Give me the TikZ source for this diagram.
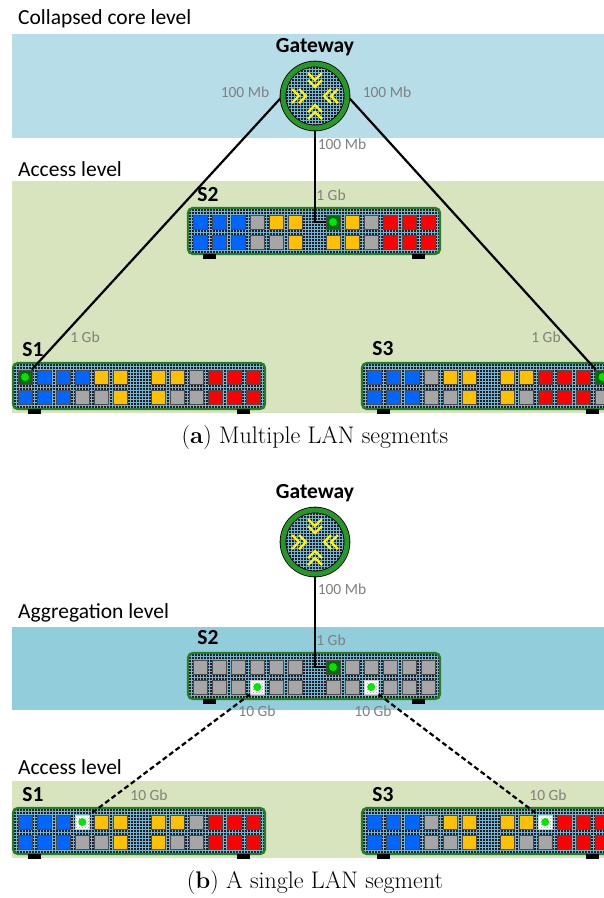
\documentclass[tikz,border=0pt]{standalone}
\usepackage{fontspec}
\newfontfamily\calibfont{Carlito}
\usetikzlibrary{patterns}

\definecolor{coreblue}{RGB}{183,222,232}
\definecolor{aggblue}{RGB}{146,205,220}
\definecolor{accgreen}{RGB}{215,228,189}
\definecolor{hatchbg}{RGB}{24,30,46}
\definecolor{hatchfg}{RGB}{120,180,202}
\definecolor{swgreen}{RGB}{40,125,40}
\definecolor{ringgreen}{RGB}{40,150,40}
\definecolor{portblue}{RGB}{0,102,255}
\definecolor{portgray}{RGB}{166,166,166}
\definecolor{portyellow}{RGB}{255,192,0}
\definecolor{portred}{RGB}{255,0,0}
\definecolor{uplinkgreen}{RGB}{0,110,0}
\definecolor{ledgreen}{RGB}{0,230,0}
\definecolor{ratetext}{RGB}{128,128,128}

\pgfdeclarelayer{links}
\pgfdeclarelayer{front}
\pgfsetlayers{main,links,front}

\tikzset{
  lvl/.style={anchor=west, inner sep=0pt, font=\calibfont\fontsize{21.5}{24}\selectfont},
  dev/.style={inner sep=0pt, font=\calibfont\bfseries\fontsize{21.5}{24}\selectfont},
  rate/.style={inner sep=0pt, text=ratetext, font=\calibfont\fontsize{15.5}{18}\selectfont},
  capt/.style={inner sep=0pt, font=\fontsize{24}{28}\selectfont},
  hatchline/.style={draw=hatchfg, line width=0.55pt},
  swframe/.style={draw=swgreen, line width=2.4pt},
  port/.style={minimum size=14pt, inner sep=0pt, draw=black!70, line width=0.7pt},
  pB/.style={fill=portblue},
  pG/.style={fill=portgray},
  pY/.style={fill=portyellow},
  pR/.style={fill=portred},
  pU/.style={fill=uplinkgreen,
    path picture={\fill[ledgreen] (path picture bounding box.center) circle (4pt);}},
  pD/.style={draw=gray!40, preaction={fill=white}, pattern=crosshatch dots, pattern color=gray!70,
    path picture={\fill[ledgreen] (path picture bounding box.center) circle (4pt);}},
  chevron/.style={draw=yellow, line width=2.4pt},
  gateway/.style={circle, minimum size=64pt, inner sep=0pt, fill=hatchbg,
    draw=black, line width=0.8pt, double=ringgreen, double distance=5pt,
    path picture={
      \draw[hatchline] (path picture bounding box.south west) grid[step=3pt] (path picture bounding box.north east);
      \begin{scope}[shift={(path picture bounding box.center)}]
        \draw[chevron] (-7,-23) -- (0,-16) -- (7,-23) (-7,-16) -- (0,-9) -- (7,-16);
        \draw[chevron] (-7,23) -- (0,16) -- (7,23) (-7,16) -- (0,9) -- (7,16);
        \draw[chevron] (-23,-7) -- (-16,0) -- (-23,7) (-16,-7) -- (-9,0) -- (-16,7);
        \draw[chevron] (23,-7) -- (16,0) -- (23,7) (16,-7) -- (9,0) -- (16,7);
      \end{scope}}},
  link/.style={draw=black, line width=2.2pt},
  fastlink/.style={draw=black, line width=2.2pt, dash pattern=on 5pt off 3pt}
}

% #1 name, #2 top left corner, #3 upper row, #4 lower row
\newcommand{\lanswitch}[4]{%
  \begin{scope}[shift={#2}]
    \fill[hatchbg, rounded corners=5pt] (0,0) rectangle (252,46);
    \begin{scope}
      \clip[rounded corners=4pt] (0,0) rectangle (252,46);
      \draw[hatchline] (0,0) grid[step=3pt] (252,46);
    \end{scope}
    \draw[swframe, rounded corners=5pt] (0,0) rectangle (252,46);
    \fill[black] (15,46) rectangle (28,51);
    \fill[black] (224,46) rectangle (237,51);
    \foreach \pc [count=\i] in {#3}
      \node[port, p\pc] (#1-t\i) at ({12+(\i-1)*19.1+18.4*(\i>6)},14) {};
    \foreach \pc [count=\i] in {#4}
      \node[port, p\pc] (#1-b\i) at ({12+(\i-1)*19.1+18.4*(\i>6)},34) {};
  \end{scope}}

\begin{document}
\begin{tikzpicture}[x=1pt, y=-1pt]
\useasboundingbox (0,0) rectangle (604,898);

\fill[coreblue] (12,34) rectangle (610,138);
\fill[accgreen] (12,181) rectangle (610,413);
\fill[aggblue] (12,627) rectangle (610,710);
\fill[accgreen] (12,781) rectangle (610,858);

\node[lvl] (core-a) at (18,19) {Collapsed core level};
\node[lvl] (access-a) at (18,169) {Access level};
\node[lvl] (aggr-b) at (18,613) {Aggregation level};
\node[lvl] (access-b) at (18,767) {Access level};

\node[dev] (gwa-name) at (315,47) {Gateway};
\node[dev] (gwb-name) at (315,493) {Gateway};
\node[dev] (s2a-name) at (208,195) {S2};
\node[dev] (s1a-name) at (33,350) {S1};
\node[dev] (s3a-name) at (383,349) {S3};
\node[dev] (s2b-name) at (208,638) {S2};
\node[dev] (s1b-name) at (33,795) {S1};
\node[dev] (s3b-name) at (383,795) {S3};

\lanswitch{s2a}{(188,208)}{B,B,B,G,Y,Y,U,Y,G,R,R,R}{B,B,B,G,G,Y,Y,Y,G,R,R,R}
\lanswitch{s1a}{(13,363)}{U,B,B,B,Y,Y,Y,Y,G,R,R,R}{B,B,B,G,G,Y,Y,G,G,R,R,R}
\lanswitch{s3a}{(362,363)}{B,B,B,G,Y,Y,Y,Y,R,R,R,U}{B,B,B,G,G,Y,Y,G,R,R,R,G}
\lanswitch{s2b}{(188,653)}{G,G,G,G,G,G,U,G,G,G,G,G}{G,G,G,D,G,G,G,G,D,G,G,G}
\lanswitch{s1b}{(13,808)}{B,B,B,D,Y,Y,Y,Y,G,R,R,R}{B,B,B,G,G,Y,Y,G,G,R,R,R}
\lanswitch{s3b}{(362,808)}{B,B,B,G,Y,Y,Y,Y,D,R,R,R}{B,B,B,G,G,Y,Y,G,G,R,R,R}

\node[rate] (r-gw-s1a) at (245,92) {100 Mb};
\node[rate] (r-gw-s3a) at (387,92) {100 Mb};
\node[rate] (r-gw-s2a) at (342,144) {100 Mb};
\node[rate] (r-s2a) at (331,195) {1 Gb};
\node[rate] (r-s1a) at (85,337) {1 Gb};
\node[rate] (r-s3a) at (546,337) {1 Gb};
\node[rate] (r-gw-s2b) at (342,589) {100 Mb};
\node[rate] (r-s2b) at (331,640) {1 Gb};
\node[rate] (r-s2b-l) at (257,711) {10 Gb};
\node[rate] (r-s2b-r) at (373,711) {10 Gb};
\node[rate] (r-s1b) at (149,795) {10 Gb};
\node[rate] (r-s3b) at (548,795) {10 Gb};

\begin{pgfonlayer}{front}
\node[gateway] (gwa) at (315,96) {};
\node[gateway] (gwb) at (315,542) {};
\end{pgfonlayer}

\begin{pgfonlayer}{links}
\draw[link] (gwa.west) -- (s1a-t1);
\draw[link] (gwa.east) -- (s3a-t12);
\draw[link] (gwa.south) |- (s2a-t7.west);
\draw[link] (gwb.south) |- (s2b-t7.west);
\draw[fastlink] (s2b-b4.south west) -- (s1b-t4.north east);
\draw[fastlink] (s2b-b9.south east) -- (s3b-t9.north west);
\end{pgfonlayer}

\node[capt] (cap-a) at (315,438) {(\textbf{a}) Multiple LAN segments};
\node[capt] (cap-b) at (315,883) {(\textbf{b}) A single LAN segment};
\end{tikzpicture}
\end{document}
